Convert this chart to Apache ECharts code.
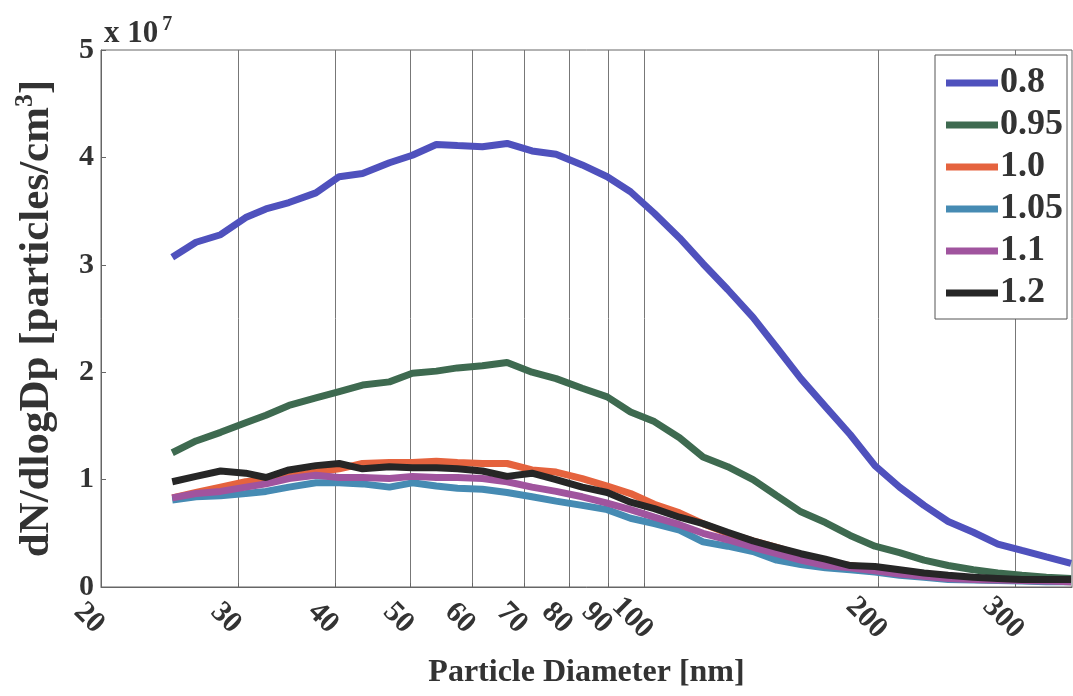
<!DOCTYPE html>
<html>
<head>
<meta charset="utf-8">
<script src="https://cdn.jsdelivr.net/npm/echarts@6/dist/echarts.min.js"></script>
<style>
	html, body {margin:0; padding:0; background:#fff;}
	#size-distribution {width:1073px; height:696px;}
</style>
</head>
<body>
<div id="size-distribution"></div>
<script>
// particle diameters [nm]
var diameters = [24.7, 26.5, 28.5, 30.7, 32.6, 34.9, 37.8, 40.5, 43.4, 47.0, 50.3, 54.0, 57.5, 61.9, 66.6, 71.7, 77.0, 83.2, 89.6,
	96, 103, 111, 119, 128, 138, 148, 159, 171, 184, 198, 213, 229, 246, 265, 285, 306, 329, 354];

// dN/dlogDp in units of 1e7 particles/cm3
var ratio08 = [3.07, 3.21, 3.28, 3.44, 3.52, 3.58, 3.67, 3.82, 3.85, 3.95, 4.02, 4.12, 4.11, 4.10, 4.13, 4.06, 4.03, 3.93, 3.82,
	3.68, 3.48, 3.25, 3.01, 2.77, 2.51, 2.23, 1.94, 1.68, 1.42, 1.13, 0.93, 0.76, 0.61, 0.51, 0.40, 0.34, 0.28, 0.22];
var ratio095 = [1.25, 1.36, 1.44, 1.53, 1.60, 1.69, 1.76, 1.82, 1.88, 1.91, 1.99, 2.01, 2.04, 2.06, 2.09, 2.00, 1.94, 1.85, 1.77,
	1.63, 1.54, 1.39, 1.21, 1.12, 1.00, 0.85, 0.70, 0.60, 0.48, 0.38, 0.32, 0.25, 0.20, 0.16, 0.13, 0.11, 0.09, 0.08];
var ratio10 = [0.83, 0.88, 0.93, 0.98, 1.00, 1.03, 1.07, 1.10, 1.15, 1.16, 1.16, 1.17, 1.16, 1.15, 1.15, 1.09, 1.07, 1.01, 0.94,
	0.87, 0.77, 0.69, 0.59, 0.50, 0.43, 0.37, 0.30, 0.23, 0.20, 0.17, 0.14, 0.11, 0.09, 0.07, 0.065, 0.06, 0.055, 0.05];
var ratio105 = [0.81, 0.84, 0.85, 0.87, 0.89, 0.93, 0.97, 0.97, 0.96, 0.93, 0.97, 0.94, 0.92, 0.91, 0.88, 0.84, 0.80, 0.76, 0.72,
	0.64, 0.59, 0.53, 0.42, 0.38, 0.33, 0.25, 0.21, 0.18, 0.16, 0.14, 0.11, 0.09, 0.07, 0.065, 0.06, 0.055, 0.05, 0.05];
var ratio11 = [0.83, 0.87, 0.89, 0.93, 0.96, 1.01, 1.04, 1.02, 1.02, 1.01, 1.03, 1.02, 1.02, 1.01, 0.98, 0.93, 0.89, 0.84, 0.78,
	0.72, 0.65, 0.58, 0.50, 0.44, 0.37, 0.31, 0.25, 0.20, 0.18, 0.15, 0.12, 0.10, 0.08, 0.07, 0.065, 0.06, 0.055, 0.05];
var ratio12 = [0.98, 1.03, 1.08, 1.06, 1.02, 1.09, 1.13, 1.15, 1.10, 1.12, 1.11, 1.11, 1.10, 1.08, 1.03, 1.06, 1.00, 0.93, 0.88,
	0.79, 0.73, 0.65, 0.59, 0.51, 0.43, 0.37, 0.31, 0.26, 0.20, 0.19, 0.16, 0.13, 0.11, 0.09, 0.08, 0.07, 0.07, 0.07];

var seriesNames = ['0.8', '0.95', '1.0', '1.05', '1.1', '1.2'];
var seriesValues = [ratio08, ratio095, ratio10, ratio105, ratio11, ratio12];
var seriesColors = ['#4f51bd', '#3e6a50', '#e5633e', '#468bb3', '#a0549e', '#262626'];

var xTicks = [20, 30, 40, 50, 60, 70, 80, 90, 100, 200, 300];
var yTicks = [0, 1, 2, 3, 4, 5];

function sizeDistributionChart(){
	var chart = echarts.init(document.getElementById('size-distribution'));
	var font = '"Liberation Serif", "Times New Roman", serif';

	var series = seriesNames.map(function (name, i) {
		return {
			name: name,
			type: 'line',
			showSymbol: false,
			symbol: 'none',
			data: diameters.map(function (d, k) { return [d, seriesValues[i][k]]; }),
			lineStyle: {width: 7, color: seriesColors[i]},
			itemStyle: {color: seriesColors[i]}
		};
	});

	var option = {
		animation: false,
		textStyle: {fontFamily: font},
		grid: {
			left: 101,
			right: 1,
			top: 50,
			bottom: 109,
			show: true,
			borderColor: '#666',
			borderWidth: 1
		},
		title: {
			left: 99,
			top: 10,
			text: '{a|x 10}{b|7}',
			textStyle: {
				rich: {
					a: {fontFamily: font, fontWeight: 'bold', fontSize: 31, color: '#333'},
					b: {fontFamily: font, fontWeight: 'bold', fontSize: 20, color: '#333', verticalAlign: 'top', padding: [0, 0, 18, 4]}
				}
			}
		},
		legend: {
			orient: 'vertical',
			left: 935,
			top: 55,
			padding: [10, 4, 8, 11],
			itemGap: 6,
			itemWidth: 52,
			itemHeight: 7,
			icon: 'rect',
			backgroundColor: '#fff',
			borderColor: '#555',
			borderWidth: 1,
			borderRadius: 0,
			textStyle: {fontFamily: font, fontWeight: 'bold', fontSize: 36, color: '#333', padding: [0, 0, 0, -3]},
			data: seriesNames
		},
		xAxis: {
			type: 'log',
			logBase: 10,
			min: 20,
			max: 355,
			name: 'Particle Diameter [nm]',
			nameLocation: 'middle',
			nameGap: 70,
			nameTextStyle: {fontFamily: font, fontWeight: 'bold', fontSize: 32, color: '#333'},
			axisLine: {show: true, lineStyle: {color: '#666', width: 1}},
			axisTick: {show: true, inside: true, length: 4, customValues: xTicks, lineStyle: {color: '#666'}},
			axisLabel: {
				customValues: xTicks,
				rotate: -45,
				align: 'center',
				verticalAlign: 'top',
				padding: [2, 0, 0, 0],
				margin: 19,
				fontFamily: font,
				fontWeight: 'bold',
				fontSize: 30,
				color: '#333',
				formatter: function (v) { return String(Math.round(v)); }
			},
			splitLine: {show: true, lineStyle: {color: '#777', width: 1}},
			minorTick: {show: false},
			minorSplitLine: {show: false}
		},
		yAxis: {
			type: 'value',
			min: 0,
			max: 5,
			interval: 1,
			name: 'dN/dlogDp [particles/cm{s|3}]',
			nameLocation: 'middle',
			nameGap: 39,
			nameRotate: 90,
			nameTextStyle: {
				fontFamily: font, fontWeight: 'bold', fontSize: 43, color: '#333',
				rich: {
					s: {fontFamily: font, fontWeight: 'bold', fontSize: 26, color: '#333', verticalAlign: 'top', padding: [0, 0, 24, 0]}
				}
			},
			axisLine: {show: true, lineStyle: {color: '#666', width: 1}},
			axisTick: {show: true, inside: true, length: 5, lineStyle: {color: '#666'}},
			axisLabel: {
				margin: 7,
				fontFamily: font,
				fontWeight: 'bold',
				fontSize: 30,
				color: '#333',
				formatter: function (v) { return yTicks.indexOf(v) >= 0 ? String(v) : ''; }
			},
			splitLine: {show: false}
		},
		series: series
	};

	chart.setOption(option);
}

sizeDistributionChart();
</script>
</body>
</html>
